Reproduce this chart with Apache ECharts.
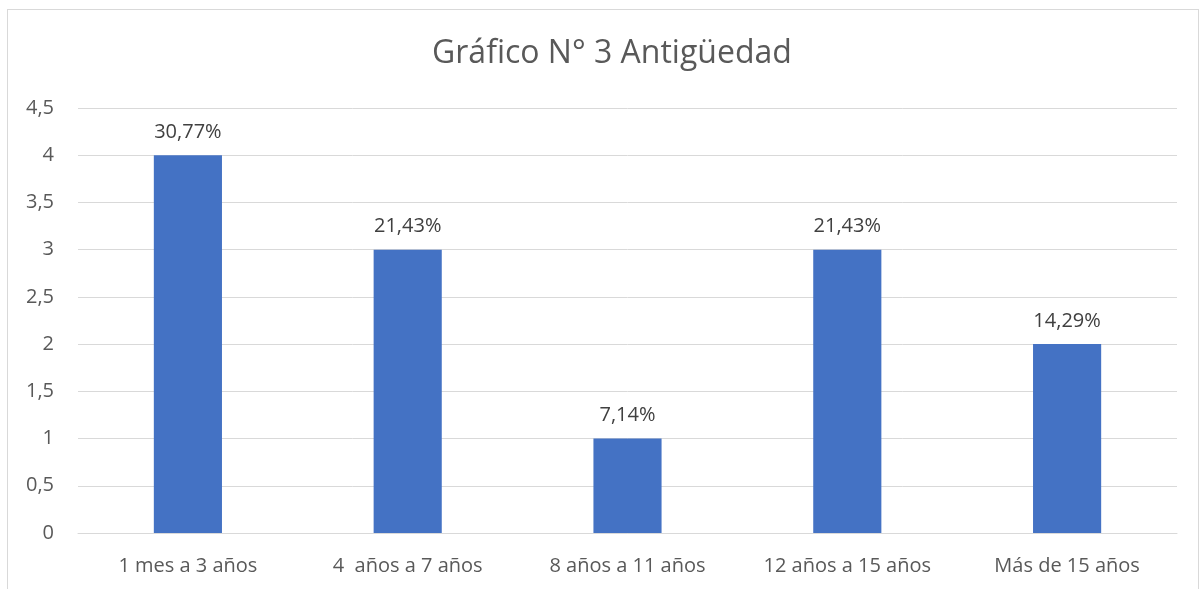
<!DOCTYPE html>
<html>
<head>
<meta charset="utf-8">
<script src="https://cdn.jsdelivr.net/npm/echarts@6/dist/echarts.min.js"></script>
<style>
  html, body { margin: 0; padding: 0; background: #fff; overflow: hidden; }
  #frame { position: absolute; left: 7px; top: 9px; width: 1190px; height: 600px; border: 1px solid #d9d9d9; }
  #chart { position: absolute; left: 0; top: 0; width: 1199px; height: 589px; }
</style>
</head>
<body>
<div id="frame"></div>
<div id="chart"></div>
<script>
// datos del gráfico
var categorias = ['1 mes a 3 años', '4  años a 7 años', '8 años a 11 años', '12 años a 15 años', 'Más de 15 años'];
var valores    = [4, 3, 1, 3, 2];
var etiquetas  = ['30,77%', '21,43%', '7,14%', '21,43%', '14,29%'];

var chart = echarts.init(document.getElementById('chart'));

var opt = {
    animation: false,
    title: {
        text: 'Gráfico N° 3 Antigüedad',
        left: 427,
        top: 33,
        textStyle: {
            fontFamily: 'Open Sans',
            fontSize: 32,
            fontWeight: 'normal',
            color: '#595959'
        }
    },
    grid: {
        left: 78,
        right: 22,
        top: 108,
        bottom: 56
    },
    xAxis: {
        type: 'category',
        data: categorias,
        axisLine: { lineStyle: { color: '#d9d9d9' } },
        axisTick: { show: false },
        axisLabel: {
            fontFamily: 'Open Sans',
            fontSize: 20,
            color: '#595959',
            margin: 23
        }
    },
    yAxis: {
        type: 'value',
        min: 0,
        max: 4.5,
        interval: 0.5,
        axisLine: { show: false },
        axisTick: { show: false },
        splitLine: { lineStyle: { color: '#d9d9d9' } },
        axisLabel: {
            fontFamily: 'Open Sans',
            fontSize: 20,
            color: '#595959',
            margin: 24,
            formatter: function (v) { return String(v).replace('.', ','); }
        }
    },
    series: [{
        type: 'bar',
        data: valores,
        barWidth: '31%',
        itemStyle: { color: '#4472c4' },
        label: {
            show: true,
            position: 'top',
            distance: 13,
            fontFamily: 'Open Sans',
            fontSize: 20,
            color: '#404040',
            formatter: function (p) { return etiquetas[p.dataIndex]; }
        }
    }]
};

chart.setOption(opt);
</script>
</body>
</html>
